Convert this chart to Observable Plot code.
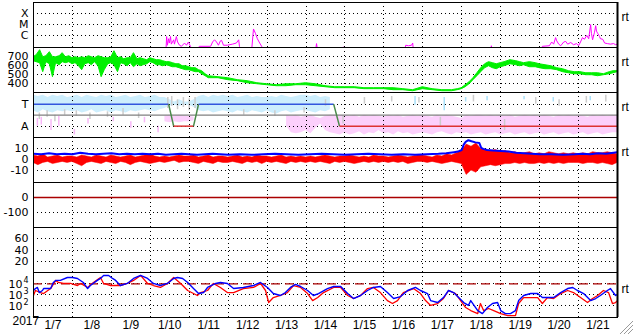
<!DOCTYPE html>
<html>
<head>
<meta charset="utf-8">
<script src="https://cdn.jsdelivr.net/npm/d3@7"></script>
<script src="https://cdn.jsdelivr.net/npm/@observablehq/plot@0.6"></script>
<style>
  html, body { margin: 0; padding: 0; background: #fff; }
  #chart { position: relative; width: 633px; height: 334px; overflow: hidden; background: #fff; }
  #chart svg.panel { position: absolute; left: 0; }
  #chart #grip { position: absolute; left: 619px; top: 320px; }
</style>
</head>
<body>
<div id="chart"></div>
<script>
// ---------------- data ----------------
const yearLabel = "2017";
const dayLabels = ["1/7","1/8","1/9","1/10","1/11","1/12","1/13","1/14","1/15","1/16","1/17","1/18","1/19","1/20","1/21"];
const dayCenters = [7.5,8.5,9.5,10.5,11.5,12.5,13.5,14.5,15.5,16.5,17.5,18.5,19.5,20.5,21.5];
const gridDays = [8,9,10,11,12,13,14,15,16,17,18,19,20,21];

// panel 1: X-ray class (log10 flux)
const xrayTicks = [-4, -5, -6];
const xrayLabels = ["X", "M", "C"];
const xrayT = [7.00,10.40,10.42,10.44,10.47,10.49,10.52,10.54,10.60,10.62,10.67,10.70,10.75,10.80,10.88,10.93,10.98,11.03,11.16,11.26,11.55,11.60,11.65,11.70,11.75,11.80,11.83,11.88,11.98,12.11,12.21,12.27,12.29,12.34,12.60,12.65,12.70,12.75,12.81,12.86,12.88,14.24,14.27,14.30,14.94,14.96,14.99,16.53,16.56,16.63,16.71,16.74,16.76,18.74,18.76,18.79,20.05,20.07,20.25,20.31,20.36,20.41,20.44,20.49,20.54,20.62,20.67,20.72,20.80,20.87,20.95,21.00,21.05,21.10,21.15,21.21,21.26,21.31,21.33,21.36,21.41,21.44,21.46,21.49,21.54,21.56,21.62,21.67,21.74,21.82,21.90,21.95,22.00];
const xrayE = [-7.5,-7.5,-6.1,-6.9,-6.3,-6.7,-6.1,-6.8,-6.4,-6.8,-6.1,-6.6,-6.9,-7.0,-6.7,-6.9,-6.6,-7.0,-7.5,-7.0,-7.0,-6.6,-6.4,-6.6,-6.9,-6.5,-6.45,-6.9,-6.9,-6.8,-6.7,-6.4,-7.0,-7.5,-7.5,-5.4,-5.8,-6.3,-6.7,-7.0,-7.5,-7.5,-6.75,-7.5,-7.5,-7.05,-7.5,-7.5,-6.9,-6.95,-6.9,-6.7,-7.5,-7.5,-6.95,-7.5,-7.5,-7.0,-6.95,-6.6,-6.8,-6.2,-6.5,-6.8,-6.95,-6.6,-6.55,-6.8,-6.65,-6.85,-6.75,-6.95,-6.6,-6.2,-6.35,-6.0,-6.3,-5.0,-5.8,-6.4,-5.7,-5.1,-5.6,-5.8,-6.1,-6.3,-6.35,-6.7,-6.75,-6.8,-6.75,-6.85,-6.8];

// panel 2: solar wind speed (km/s), low / high envelope
const speedTicks = [700, 600, 500, 400];
const speedT = [7.00,7.08,7.17,7.25,7.33,7.42,7.50,7.58,7.67,7.75,7.83,7.92,8.00,8.08,8.17,8.25,8.33,8.42,8.50,8.58,8.67,8.75,8.83,8.92,9.00,9.08,9.17,9.25,9.33,9.42,9.50,9.58,9.67,9.75,9.83,9.92,10.00,10.08,10.17,10.25,10.33,10.42,10.50,10.58,10.67,10.75,10.83,10.92,11.00,11.08,11.17,11.25,11.33,11.42,11.50,
  11.75,12.0,12.25,12.5,12.75,13.0,13.25,13.5,13.75,14.0,14.25,14.5,14.75,15.0,15.25,15.5,15.75,16.0,16.25,16.5,16.75,17.0,17.25,17.5,17.75,
  17.9,18.0,18.1,18.2,18.3,18.4,18.5,18.6,18.7,18.8,18.9,19.0,19.1,19.25,19.4,19.5,19.6,19.75,19.9,20.0,20.15,20.3,20.45,20.6,20.75,20.9,21.05,21.2,21.35,21.5,21.65,21.8,21.9,22.0];
const speedHi = [692,714,770,692,703,748,692,692,703,737,692,703,681,692,681,692,681,703,692,681,703,692,681,681,692,759,681,692,670,681,681,737,670,681,670,659,681,670,659,659,648,637,637,626,614,614,592,592,581,570,570,548,537,503,481,
  470,459,437,426,403,392,381,392,392,403,392,370,359,359,359,348,348,348,348,337,326,359,337,326,326,
  337,348,381,414,459,514,570,614,637,626,614,626,637,659,648,637,626,637,626,614,603,592,570,559,537,526,526,514,514,514,503,526,537,537];
const speedLo = [648,637,626,526,637,614,470,626,603,637,626,637,614,626,592,548,614,626,603,637,592,470,548,614,626,603,526,626,614,592,626,581,614,592,603,614,637,626,603,603,592,603,592,581,581,570,559,548,548,537,526,526,503,481,459,
  459,437,426,403,392,381,370,370,381,381,370,359,348,348,348,337,337,337,326,326,314,337,326,314,314,
  326,337,359,392,437,481,526,570,592,570,559,581,592,614,603,592,603,581,581,570,559,559,548,526,514,503,503,492,492,481,492,503,514,526];

// panel 3: T / A state and particle clouds (T = 1, A = 0)
const stateTicks = [1, 0];
const stateLabels = ["T", "A"];
const stateT = [7, 10.47, 10.60, 11.11, 11.24, 14.71, 14.86, 22];
const stateV = [1, 1, 0, 0, 1, 1, 0, 0];
const cloudStep = 0.125;
const blueStart = 7.0;
const blueTop = [1.4,1.35,1.4,1.3,1.4,1.35,1.4,1.3, 1.35,1.4,1.3,1.4,1.35,1.3,1.4,1.35, 1.4,1.3,1.35,1.4,1.3,1.35,1.4,1.3, 1.35,1.4,1.3,1.3,1.2,1.1,1.2,1.1, 1.1,1.2,1.35,1.4,1.3,1.4,1.35,1.4, 1.35,1.4,1.3,1.35,1.4,1.3,1.35,1.3, 1.3,1.35,1.3,1.4,1.35,1.3,1.35,1.4, 1.4,1.35,1.4,1.3,1.35,1.3];
const blueBot = [0.7,0.6,0.75,0.65,0.6,0.7,0.65,0.7, 0.65,0.7,0.6,0.65,0.75,0.6,0.65,0.7, 0.6,0.7,0.65,0.6,0.7,0.65,0.7,0.75, 0.7,0.65,0.75,0.8,0.9,0.95,0.9,0.95, 0.95,0.85,0.7,0.65,0.7,0.6,0.65,0.7, 0.65,0.6,0.7,0.65,0.6,0.7,0.65,0.6, 0.7,0.6,0.55,0.65,0.7,0.6,0.65,0.7, 0.7,0.65,0.6,0.7,0.65,0.75];
const pinkStart = 10.0;
const pinkTop = [null,null,null,0.45,0.5,0.45,0.5,0.45, 0.45,0.4,null,null,null,null,null,null, null,null,null,null,null,null,null,null, null,null,null,null,0.5,0.45,0.5,0.4,
  0.45,0.5,0.4,0.35,0.45,0.5,0.5,0.45, 0.5,0.45,0.5,0.4,0.5,0.45,0.5,0.45, 0.4,0.5,0.45,0.5,0.4,0.45,0.5,0.45, 0.5,0.45,0.4,0.5,0.45,0.5,0.45,0.4,
  0.35,0.5,0.45,0.5,0.5,0.45,0.5,0.45, 0.5,0.45,0.5,0.4,0.45,0.5,0.45,0.5, 0.45,0.5,0.45,0.4,0.5,0.45,0.5,0.45, 0.5,0.45,0.4,0.5,0.45,0.5,0.45,0.5, 0.45];
const pinkBot = [null,null,null,0.2,0.15,0.2,0.15,0.2, 0.2,0.25,null,null,null,null,null,null, null,null,null,null,null,null,null,null, null,null,null,null,0.0,-0.3,-0.35,-0.3,
  -0.2,-0.35,-0.1,0.1,-0.2,-0.3,-0.35,-0.4, -0.3,-0.4,-0.35,-0.25,-0.4,-0.3,-0.35,-0.2, -0.35,-0.3,-0.4,-0.25,-0.35,-0.3,-0.4,-0.35, -0.3,-0.35,-0.4,-0.3,-0.25,-0.35,-0.4,-0.3,
  -0.35,-0.3,-0.4,-0.35,-0.3,-0.4,-0.35,-0.3, -0.4,-0.35,-0.3,-0.4,-0.35,-0.3,-0.4,-0.35, -0.3,-0.4,-0.35,-0.3,-0.4,-0.35,-0.3,-0.4, -0.35,-0.3,-0.4,-0.35,-0.3,-0.4,-0.35,-0.3, -0.3];
const graySpT = [7.15,7.35,7.55,7.8,8.1,8.45,8.9,9.3,9.7,10.45,10.55,10.7,10.85,11.0,11.15,12.4,13.2,13.95,14.5,14.95,15.5,16.2,16.9,17.45,18.3,19.1,19.9,20.5,21.2,21.7];
const graySpLo = [0.3,0.4,0.2,0.5,0.45,0.3,0.4,0.5,0.35,0.8,0.9,0.75,0.85,0.7,0.8,0.5,0.45,0.6,0.9,0.1,1.0,1.1,1.05,0.0,1.1,-0.2,1.0,0.9,1.05,1.1];
const graySpHi = [0.6,0.7,0.5,0.75,0.7,0.6,0.65,0.8,0.6,1.3,1.35,1.2,1.3,1.25,1.3,0.75,0.7,0.85,1.2,0.45,1.3,1.35,1.3,0.4,1.4,0.3,1.3,1.2,1.35,1.4];
const pinkSpT = [7.1,7.2,7.45,7.65,8.05,8.4,9.05,9.5,9.85,10.2];
const pinkSpLo = [0.0,0.05,-0.2,0.0,-0.4,0.1,0.2,-0.1,0.15,-0.3];
const pinkSpHi = [0.35,0.4,0.3,0.45,-0.15,0.35,0.4,0.2,0.4,0.0];
const ltBlueSpT = [16.8,17.55,18.1,18.65,19.6,20.35,21.3];
const ltBlueSpLo = [0.95,0.7,1.1,1.15,1.2,1.1,1.15];
const ltBlueSpHi = [1.35,1.3,1.3,1.35,1.35,1.3,1.35];

// panel 4: IMF Bt (blue) and Bz envelope (red), nT
const bTicks = [10, 0, -10];
const btT = [7.0,7.2,7.4,7.6,7.8,8.0,8.2,8.4,8.6,8.8,9.0,9.2,9.4,9.6,9.8,10.0,10.2,10.4,10.6,10.8,11.0,11.2,11.4,11.6,11.8,12.0,
  12.3,12.6,12.9,13.2,13.5,13.8,14.1,14.4,14.7,15.0,15.3,15.6,15.9,16.2,16.5,16.8,17.1,17.4,
  17.6,17.8,17.9,18.0,18.05,18.1,18.17,18.25,18.35,18.45,18.5,18.55,18.65,18.8,19.0,19.2,19.4,19.6,19.8,20.0,20.3,20.6,20.9,21.1,21.3,21.5,21.7,21.9,22.0];
const btV = [5.5,5,6,5,5.5,5,6.5,5.5,5,5.5,6,5,5.5,5,5.5,5,5.5,4.5,5,5.5,5,4.5,5,5.5,5,4.5,
  5,4.5,5,5.5,5,4.5,5,5.5,5,4.5,5,5.5,5,4.5,5,4.5,5,5.5,
  6,7,7.5,9,14,16.5,18,17,16,15.5,11,10,9,8.5,8,7.5,6.5,6,5.5,5,5,4.5,5,5.5,5,6,5.5,6.5,7];
const bzStart = 7.0;
const bzTop = [4,3,5,2,3,4,2,3, 3,2,4,3,2,4,3,2, 4,3,2,3,4,2,3,4, 5,3,2,3,2,3,4,3, 3,4,2,3,4,2,3,3, 2,3,4,2,3,2,4,3, 3,2,3,4,2,3,2,3, 2,3,2,3,4,3,2,3,
  3,4,3,2,3,2,4,3, 3,2,3,4,3,2,3,4, 4,3,2,4,3,5,4,6, 8,14,12,15,10,9,8,9, 7,8,6,7,5,6,7,5, 6,5,7,6,5,6,5,6, 5,6,5,7,6,6,7,6, 5];
const bzBot = [-3,-5,-3,-2,-4,-3,-2,-3, -2,-4,-6,-3,-2,-3,-4,-2, -3,-4,-2,-3,-5,-3,-2,-3, -4,-3,-2,-3,-2,-1,-3,-2, -2,-3,-4,-2,-3,-4,-2,-3, -3,-2,-3,-4,-2,-3,-2,-4, -2,-3,-2,-3,-4,-2,-3,-2, -3,-2,-3,-2,-3,-4,-2,-3,
  -2,-3,-4,-3,-2,-3,-2,-3, -2,-3,-2,-3,-2,-4,-3,-2, -2,-3,-2,-3,-4,-3,-2,-3, -4,-14,-10,-12,-7,-6,-5,-6, -5,-4,-4,-3,-4,-3,-4,-4, -3,-4,-3,-4,-3,-4,-3,-3, -3,-4,-3,-3,-4,-3,-4,-5, -3];

// panel 5 and 6 ticks
const dstTicks = [0, -100];
const p6Ticks = [60, 40, 20];

// panel 7: electron flux (log10)
const eTicks = [4, 3, 2];
const eBlueT = [7.00,7.05,7.10,7.15,7.23,7.26,7.44,7.51,7.57,7.69,7.87,8.00,8.13,8.28,8.39,8.46,8.64,8.72,8.80,8.93,9.03,9.11,9.23,9.41,9.57,9.75,9.93,10.08,10.26,10.44,10.60,10.70,10.83,10.96,11.11,11.24,11.37,11.47,11.68,11.80,11.98,12.14,12.39,12.65,12.83,13.01,13.16,13.34,13.47,13.60,13.73,13.86,14.04,14.19,14.32,14.55,14.71,14.89,15.07,15.22,15.40,15.58,15.73,15.91,16.09,16.25,16.43,16.61,16.81,16.94,17.12,17.20,17.38,17.53,17.66,17.79,17.92,18.05,18.17,18.23,18.41,18.53,18.66,18.79,18.92,19.00,19.12,19.25,19.38,19.46,19.59,19.77,19.95,20.07,20.20,20.36,20.54,20.72,20.85,20.97,21.13,21.31,21.44,21.56,21.74,21.82,21.95,22.00];
const eBlueV = [3.38,3.56,3.66,3.19,3.38,3.56,3.56,4.12,4.31,4.31,4.58,4.58,4.49,4.12,3.56,3.84,4.31,4.49,4.77,4.77,4.49,4.31,3.84,4.03,4.49,4.77,4.49,4.03,3.84,4.03,4.49,4.58,4.49,4.12,3.56,3.10,3.19,3.66,4.03,4.12,4.03,3.56,3.66,3.84,4.12,3.66,3.10,2.92,3.19,3.66,3.94,3.75,3.38,2.92,3.10,3.56,3.75,3.75,3.10,2.64,2.92,3.38,3.66,3.75,3.19,2.64,2.82,3.38,3.66,3.38,3.10,2.45,2.27,2.73,3.38,3.19,2.73,2.27,2.00,2.45,1.53,1.25,1.81,2.18,2.27,1.53,1.25,1.25,1.53,2.45,2.92,3.10,3.10,2.73,2.73,2.73,3.19,3.56,3.66,3.38,3.10,2.45,2.64,2.92,3.38,3.56,2.92,3.01];
const eRedT = [7.00,7.05,7.18,7.26,7.44,7.57,7.64,7.77,7.95,8.13,8.21,8.39,8.54,8.72,8.80,8.98,9.11,9.23,9.41,9.57,9.75,9.93,10.08,10.26,10.44,10.60,10.78,10.96,11.11,11.21,11.29,11.47,11.62,11.80,11.98,12.14,12.39,12.65,12.83,12.96,13.04,13.16,13.34,13.52,13.68,13.86,14.04,14.17,14.30,14.45,14.71,14.89,15.07,15.22,15.40,15.58,15.73,15.91,16.09,16.22,16.35,16.50,16.76,16.94,17.07,17.20,17.38,17.53,17.66,17.84,17.97,18.10,18.23,18.41,18.48,18.56,18.69,18.82,19.00,19.18,19.38,19.46,19.59,19.77,19.95,20.07,20.20,20.36,20.54,20.72,20.87,21.05,21.23,21.36,21.49,21.64,21.77,21.87,21.95,22.00];
const eRedV = [2.92,3.38,3.19,3.10,3.56,4.31,4.12,4.03,4.03,3.84,4.03,3.66,4.12,4.58,4.03,3.84,3.84,3.84,4.03,4.31,4.77,4.03,3.84,3.66,4.03,4.58,4.03,3.38,3.10,2.92,3.19,3.38,4.03,3.66,3.19,3.19,3.56,3.66,4.03,3.38,2.27,2.73,2.92,3.19,3.84,3.66,3.10,2.45,2.73,3.19,3.66,3.66,2.92,2.64,2.92,3.56,3.66,3.19,2.45,2.18,2.45,3.19,3.56,3.10,2.45,2.00,2.18,2.64,3.38,3.10,2.45,1.81,1.53,1.25,2.18,1.53,1.72,1.53,1.25,1.07,1.07,2.18,2.73,2.73,2.73,2.18,2.73,2.64,3.10,3.38,3.19,2.73,2.27,2.64,2.92,3.38,3.19,2.18,2.27,2.45];
const eThreshold = [4];

// ---------------- layout ----------------
const W = 633, ML = 33, MR = 16, PH = 45, TOP0 = 2;
const chart = document.getElementById("chart");
const yFont = "'DejaVu Sans', sans-serif";
const xFont = "'Liberation Sans', Arial, sans-serif";
const grid = (ticks) => [
  Plot.ruleX(gridDays, {stroke: "black", strokeDasharray: "1,3", shapeRendering: "crispEdges"}),
  Plot.ruleY(ticks, {stroke: "black", strokeDasharray: "1,3", shapeRendering: "crispEdges"})
];
const frame = () => [
  Plot.frame({stroke: "black", shapeRendering: "crispEdges"}),
  Plot.ruleX([22], {stroke: "black", strokeWidth: 2})
];
const yAxis = (ticks, fmt) => Plot.axisY(ticks, {tickSize: 0, tickPadding: 5, tickFormat: fmt, label: null, fontFamily: yFont, fontSize: 11});
const rt = (dy) => Plot.text(["rt"], {frameAnchor: "top-right", dx: 4, dy, textAnchor: "start", fontFamily: xFont, fontSize: 12});
const grid3 = (start, arr) => arr.map((_, i) => start + i * cloudStep);

function panel(i, domain, marks, last = false) {
  const svg = Plot.plot({
    width: W,
    height: PH + 2 + (last ? 17 : 0),
    marginLeft: ML, marginRight: MR, marginTop: 1, marginBottom: last ? 18 : 1,
    x: {domain: [7, 22], axis: null},
    y: {domain, axis: null},
    color: {type: "identity"},
    style: {background: "transparent", fontFamily: yFont, fontSize: "11px", overflow: "visible", color: "black"},
    marks
  });
  svg.classList.add("panel");
  svg.style.top = (TOP0 + i * PH - 1) + "px";
  chart.append(svg);
}

// panel 1
panel(0, [-7.11, -2.96], [
  ...grid(xrayTicks),
  Plot.line(xrayT, {x: xrayT, y: xrayE, stroke: "#ff00ff", strokeWidth: 1, clip: true}),
  ...frame(),
  yAxis(xrayTicks, d => xrayLabels[xrayTicks.indexOf(d)]),
  rt(10)
]);

// panel 2
panel(1, [300, 800], [
  ...grid(speedTicks),
  Plot.areaY(speedT, {x: speedT, y1: speedLo, y2: speedHi, fill: "#00f000", stroke: "#00f000", strokeWidth: 1, clip: true}),
  ...frame(),
  yAxis(speedTicks, d => String(d)),
  rt(10)
]);

// panel 3
const blueT = grid3(blueStart, blueTop);
const pinkT = grid3(pinkStart, pinkTop);
const segs = stateT.slice(0, -1).map((_, k) => k);
panel(2, [-0.515, 1.53], [
  Plot.areaY(blueT, {x: blueT, y1: blueBot, y2: blueTop, fill: "#cdeefd"}),
  Plot.areaY(pinkT, {x: pinkT, y1: pinkBot, y2: pinkTop, fill: "#fcd0fc"}),
  Plot.ruleX(graySpT, {x: graySpT, y1: graySpLo, y2: graySpHi, stroke: "#cccccc", strokeWidth: 1.5}),
  Plot.ruleX(pinkSpT, {x: pinkSpT, y1: pinkSpLo, y2: pinkSpHi, stroke: "#f8b8f8", strokeWidth: 1.5}),
  Plot.ruleX(ltBlueSpT, {x: ltBlueSpT, y1: ltBlueSpLo, y2: ltBlueSpHi, stroke: "#a8e0fa", strokeWidth: 1.5}),
  ...grid(stateTicks),
  Plot.ruleY([0.5], {stroke: "#808080", strokeWidth: 1.2}),
  Plot.link(segs, {
    x1: k => stateT[k], y1: k => stateV[k], x2: k => stateT[k + 1], y2: k => stateV[k + 1],
    stroke: k => stateV[k] === 1 && stateV[k + 1] === 1 ? "#3355dd" : stateV[k] === 0 && stateV[k + 1] === 0 ? "#dd3333" : "#4a8a4a",
    strokeWidth: 1.5
  }),
  ...frame(),
  yAxis(stateTicks, d => stateLabels[stateTicks.indexOf(d)]),
  rt(10)
]);

// panel 4
const bzT = grid3(bzStart, bzTop);
panel(3, [-21, 20.5], [
  ...grid(bTicks),
  Plot.ruleY([0], {stroke: "#aa0000"}),
  Plot.areaY(bzT, {x: bzT, y1: bzBot, y2: bzTop, fill: "#ff0000", stroke: "#ff0000", strokeWidth: 0.5, clip: true}),
  Plot.line(btT, {x: btT, y: btV, stroke: "#0000ff", strokeWidth: 2, clip: true}),
  ...frame(),
  yAxis(bTicks, d => String(d)),
  rt(10)
]);

// panel 5
panel(4, [-200, 100], [
  ...grid(dstTicks),
  Plot.ruleY([0], {stroke: "#aa0000", strokeWidth: 1.3}),
  ...frame(),
  yAxis(dstTicks, d => String(d))
]);

// panel 6
panel(5, [0, 80], [
  ...grid(p6Ticks),
  ...frame(),
  yAxis(p6Ticks, d => String(d))
]);

// panel 7
panel(6, [0.89, 5.04], [
  ...grid(eTicks),
  Plot.ruleY(eThreshold, {stroke: "#aa0000", strokeWidth: 1.3, strokeDasharray: "9,5"}),
  Plot.line(eRedT, {x: eRedT, y: eRedV, stroke: "#ff0000", strokeWidth: 1.3, clip: true}),
  Plot.line(eBlueT, {x: eBlueT, y: eBlueV, stroke: "#0000ff", strokeWidth: 1.4, clip: true}),
  ...frame(),
  Plot.text(eTicks, {y: d => d, text: () => "10", frameAnchor: "left", textAnchor: "end", dx: -11, dy: 1, fontFamily: yFont, fontSize: 11}),
  Plot.text(eTicks, {y: d => d, text: d => String(d), frameAnchor: "left", textAnchor: "start", dx: -10, dy: -3, fontFamily: yFont, fontSize: 8}),
  Plot.axisX(dayCenters, {tickSize: 0, tickPadding: 3, tickFormat: d => dayLabels[dayCenters.indexOf(d)], label: null, fontFamily: xFont, fontSize: 12}),
  Plot.text([yearLabel], {frameAnchor: "bottom-left", dx: -21, dy: 7, fontFamily: xFont, fontSize: 12}),
  rt(12)
], true);

// window resize grip (decoration)
chart.insertAdjacentHTML("beforeend",
  '<svg id="grip" width="14" height="14"><g stroke="#9a9a9a" stroke-width="1">' +
  '<line x1="14" y1="1" x2="1" y2="14"/><line x1="14" y1="5" x2="5" y2="14"/><line x1="14" y1="9" x2="9" y2="14"/></g>' +
  '<g stroke="#ffffff" stroke-width="1"><line x1="14" y1="2" x2="2" y2="14"/><line x1="14" y1="6" x2="6" y2="14"/><line x1="14" y1="10" x2="10" y2="14"/></g></svg>');
</script>
</body>
</html>
